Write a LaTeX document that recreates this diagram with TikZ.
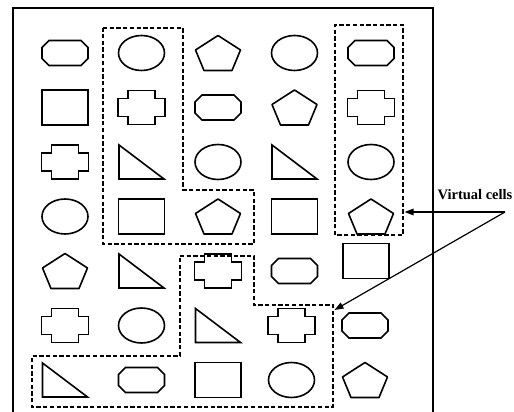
\documentclass[tikz,border=0pt]{standalone}
\usepackage{fontspec}
\setmainfont{Liberation Serif}
\usepackage{tikz}
\usetikzlibrary{positioning,arrows.meta,shapes.geometric}

\begin{document}
\begin{tikzpicture}[
        x=1pt, y=1pt,
        node distance=54.5pt and 76.5pt, on grid,
        shp/.style={minimum width=46pt, minimum height=35pt, inner sep=0pt, line width=1.6pt},
        ell/.style={shp, draw, ellipse},
        rect/.style={shp, draw, rectangle},
        outl/.style={shp, minimum width=50pt, minimum height=38pt},
        oct/.style={outl, path picture={
            \draw[line width=1.6pt, shift={(path picture bounding box.center)}]
              (-16pt,12.5pt) -- (16pt,12.5pt) -- (23pt,5.5pt) -- (23pt,-5.5pt)
              -- (16pt,-12.5pt) -- (-16pt,-12.5pt) -- (-23pt,-5.5pt) -- (-23pt,5.5pt) -- cycle;}},
        crs/.style={outl, path picture={
            \draw[line width=1.6pt, shift={(path picture bounding box.center)}]
              (-13.5pt,17pt) -- (13.5pt,17pt) -- (13.5pt,9pt) -- (23.5pt,9pt)
              -- (23.5pt,-9pt) -- (13.5pt,-9pt) -- (13.5pt,-17pt) -- (-13.5pt,-17pt)
              -- (-13.5pt,-9pt) -- (-23.5pt,-9pt) -- (-23.5pt,9pt) -- (-13.5pt,9pt) -- cycle;}},
        tri/.style={outl, path picture={
            \draw[line width=1.6pt, shift={(path picture bounding box.center)}]
              (-22.5pt,17pt) -- (-22.5pt,-17pt) -- (22.5pt,-17pt) -- cycle;}},
        pent/.style={outl, path picture={
            \draw[line width=1.6pt, line join=round, shift={(path picture bounding box.center)}]
              (0pt,17.5pt) -- (22.5pt,3pt) -- (14pt,-17.5pt) -- (-14pt,-17.5pt)
              -- (-22.5pt,3pt) -- cycle;}},
        vcell/.style={dash pattern=on 4.3pt off 2.4pt, line width=1.4pt},
        lbl/.style={font=\fontsize{14.5}{17}\selectfont\bfseries, inner sep=0pt},
        arr/.style={-{Triangle[length=9pt,width=6.5pt]}, line width=1.2pt}
    ]
    \useasboundingbox (0,0) rectangle (514,412);

    % outer frame
    \draw[line width=1.4pt] (13,-2) |- (433,404) -- (433,-2);

    % row 1
    \node[oct] (s11) at (65,359) {};
    \node[ell, right=of s11]  (s12) {};
    \node[pent, right=of s12] (s13) {};
    \node[ell, right=of s13]  (s14) {};
    \node[oct, right=of s14]  (s15) {};
    % row 2
    \node[rect, below=of s11] (s21) {};
    \node[crs, right=of s21]  (s22) {};
    \node[oct, right=of s22]  (s23) {};
    \node[pent, right=of s23] (s24) {};
    \node[crs, right=of s24]  (s25) {};
    % row 3
    \node[crs, below=of s21]  (s31) {};
    \node[tri, right=of s31]  (s32) {};
    \node[ell, right=of s32]  (s33) {};
    \node[tri, right=of s33]  (s34) {};
    \node[ell, right=of s34]  (s35) {};
    % row 4
    \node[ell, below=of s31]  (s41) {};
    \node[rect, right=of s41] (s42) {};
    \node[pent, right=of s42] (s43) {};
    \node[rect, right=of s43] (s44) {};
    \node[pent, right=of s44] (s45) {};
    % row 5
    \node[pent, below=of s41] (s51) {};
    \node[tri, right=of s51]  (s52) {};
    \node[crs, right=of s52]  (s53) {};
    \node[oct, right=of s53]  (s54) {};
    \node[rect, right=of s54, xshift=-5pt, yshift=10pt] (s55) {};
    % row 6
    \node[crs, below=of s51]  (s61) {};
    \node[ell, right=of s61]  (s62) {};
    \node[tri, right=of s62]  (s63) {};
    \node[crs, right=of s63, xshift=-3pt] (s64) {};
    \node[oct, right=of s64, xshift=-3pt] (s65) {};
    % row 7
    \node[tri, below=of s61]  (s71) {};
    \node[oct, right=of s71]  (s72) {};
    \node[rect, right=of s72] (s73) {};
    \node[ell, right=of s73, xshift=-3pt]  (s74) {};
    \node[pent, right=of s74, xshift=-3pt] (s75) {};

    % virtual cells
    \draw[vcell] (103,384) -- (183,384) -- (183,222) -- (254,222) -- (254,168) -- (103,168) -- cycle;
    \draw[vcell] (335,177) rectangle (403,387);
    \draw[vcell] (180,156) -- (254,156) -- (254,107) -- (333,107) -- (333,5)
                 -- (32,5) -- (32,56) -- (180,56) -- cycle;

    \node[lbl] (vc) at (475,217) {Virtual cells};
    \coordinate (hub)  at (505,200);
    \coordinate (tipB) at (404.5,200);
    \coordinate (tipC) at (334.5,102);
    \draw[arr] (hub) -- (tipB);
    \draw[arr] (hub) -- (tipC);
\end{tikzpicture}
\end{document}
